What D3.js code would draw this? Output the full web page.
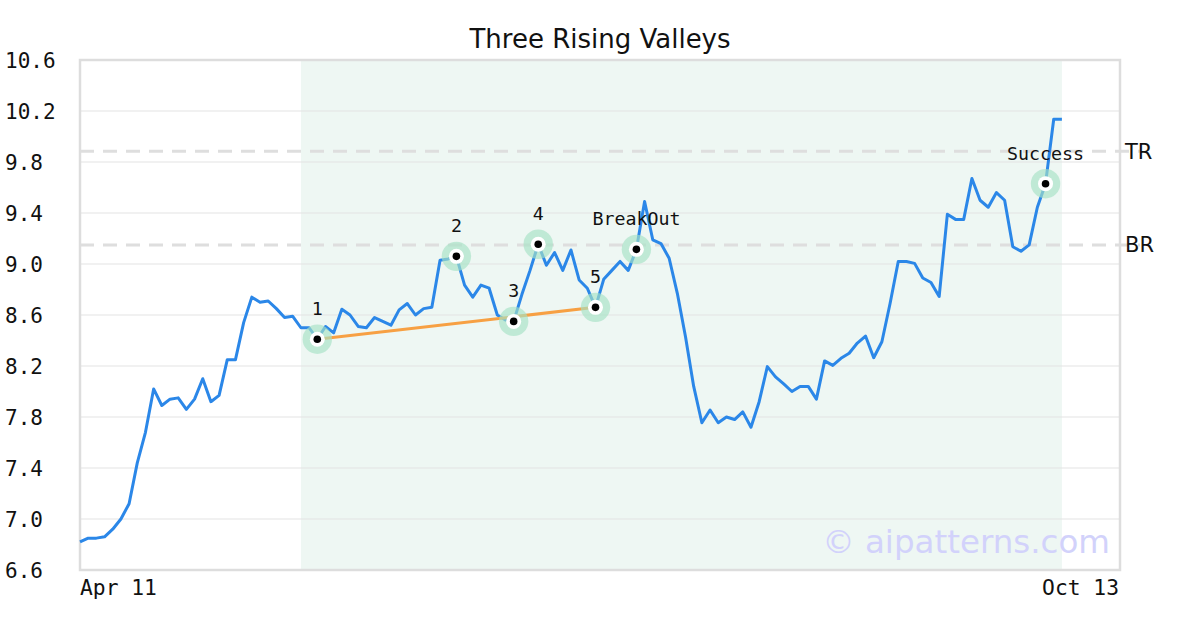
<!DOCTYPE html>
<html><head><meta charset="utf-8">
<script src="https://cdn.jsdelivr.net/npm/d3@7"></script>
<style>body{margin:0;background:#fff}svg{display:block}</style>
</head><body>
<svg id="c" width="1200" height="630"></svg>
<script>
const values = [6.82,6.85,6.85,6.86,6.92,7.00,7.12,7.44,7.68,8.02,
7.89,7.94,7.95,7.86,7.94,8.10,7.92,7.97,8.25,8.25,
8.54,8.74,8.70,8.71,8.65,8.58,8.59,8.50,8.50,8.41,
8.51,8.46,8.645,8.60,8.51,8.50,8.58,8.55,8.52,8.64,
8.69,8.60,8.65,8.66,9.03,9.04,9.06,8.835,8.74,8.835,
8.81,8.60,8.56,8.55,8.76,8.95,9.155,8.99,9.09,8.95,
9.11,8.875,8.81,8.66,8.88,8.95,9.02,8.95,9.115,9.49,
9.19,9.16,9.045,8.77,8.43,8.04,7.755,7.855,7.755,7.80,
7.78,7.84,7.72,7.92,8.195,8.115,8.06,8.00,8.04,8.04,
7.94,8.24,8.205,8.26,8.30,8.38,8.435,8.265,8.39,8.69,
9.02,9.02,9.005,8.89,8.855,8.745,9.39,9.35,9.35,9.67,
9.50,9.445,9.56,9.50,9.135,9.10,9.15,9.445,9.63,10.135,10.135];
const yTicks = [6.6,7.0,7.4,7.8,8.2,8.6,9.0,9.4,9.8,10.2,10.6];
const xTickLabels = ["Apr 11","Oct 13"];
const markerIdx = [29,46,53,56,63,68,118];
const markerLabels = ["1","2","3","4","5","BreakOut","Success"];
const trendIdx = [29,63];
const shadeRange = [27,120];
const levels = [{name:"TR",v:9.885},{name:"BR",v:9.15}];
const xMax = 127.1;

const svg = d3.select("#c");
const L=80,R=1120,T=60,B=570;
const x = d3.scaleLinear().domain([0,xMax]).range([L,R]);
const y = d3.scaleLinear().domain([6.6,10.6]).range([B,T]);
const mono = "DejaVu Sans Mono, monospace";
const sans = "DejaVu Sans, sans-serif";

svg.append("rect").attr("x",x(shadeRange[0])).attr("y",T).attr("width",x(shadeRange[1])-x(shadeRange[0])).attr("height",B-T).attr("fill","#eef7f3");

svg.append("g").selectAll("line").data(yTicks.slice(1,-1)).join("line")
 .attr("x1",L).attr("x2",R).attr("y1",d=>y(d)).attr("y2",d=>y(d)).attr("stroke","#e3e3e3").attr("stroke-width",1);

svg.append("g").selectAll("text").data(yTicks).join("text")
 .attr("x",5).attr("y",d=>y(d)).attr("dy","0.36em").attr("font-family",mono).attr("font-size",21).attr("fill","#111")
 .text(d=>d.toFixed(1));

svg.append("text").attr("x",L).attr("y",595).attr("font-family",mono).attr("font-size",21.3).attr("fill","#111").text(xTickLabels[0]);
svg.append("text").attr("x",R-1).attr("y",595).attr("text-anchor","end").attr("font-family",mono).attr("font-size",21.3).attr("fill","#111").text(xTickLabels[1]);

svg.append("text").attr("x",1110).attr("y",553).attr("text-anchor","end").attr("font-family",sans).attr("font-size",32.5).attr("fill","#d2d2fb").text("© aipatterns.com");

const lv = svg.append("g");
levels.forEach(l=>{
  lv.append("line").attr("x1",L).attr("x2",R+20).attr("y1",y(l.v)).attr("y2",y(l.v)).attr("stroke","#dedede").attr("stroke-width",3).attr("stroke-dasharray","14,9");
  lv.append("text").attr("x",1125).attr("y",y(l.v)).attr("dy","0.36em").attr("font-family",sans).attr("font-size",21).attr("fill","#111").text(l.name);
});

svg.append("rect").attr("x",L).attr("y",T).attr("width",R-L).attr("height",B-T).attr("fill","none").attr("stroke","#dddddd").attr("stroke-width",2.5);

const line = d3.line().x((d,i)=>x(i)).y(d=>y(d));
svg.append("path").datum(values).attr("d",line).attr("fill","none").attr("stroke","#2b87e8").attr("stroke-width",3).attr("stroke-linejoin","round");

svg.append("line").attr("x1",x(trendIdx[0])).attr("y1",y(values[trendIdx[0]])).attr("x2",x(trendIdx[1])).attr("y2",y(values[trendIdx[1]]))
 .attr("stroke","#f7a043").attr("stroke-width",3);

const mk = svg.append("g");
markerIdx.forEach((idx,k)=>{
  const cx=x(idx), cy=y(values[idx]);
  mk.append("circle").attr("cx",cx).attr("cy",cy).attr("r",14.7).attr("fill","#a6e2c4").attr("opacity",0.65);
  mk.append("circle").attr("cx",cx).attr("cy",cy).attr("r",7.5).attr("fill","#fff");
  mk.append("circle").attr("cx",cx).attr("cy",cy).attr("r",3.8).attr("fill","#000");
  mk.append("text").attr("x",cx).attr("y",cy-24).attr("text-anchor","middle").attr("font-family",mono).attr("font-size",18.3).attr("fill","#111").text(markerLabels[k]);
});

svg.append("text").attr("x",600).attr("y",48).attr("text-anchor","middle").attr("font-family",sans).attr("font-size",26).attr("fill","#111").text("Three Rising Valleys");
</script>
</body></html>
